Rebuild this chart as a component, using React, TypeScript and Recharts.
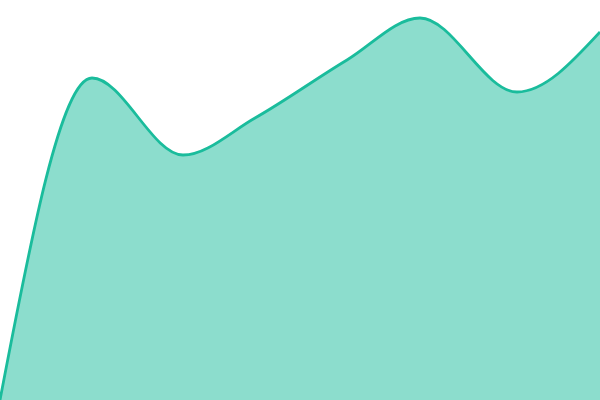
import React from 'react';
import { AreaChart, Area, XAxis, YAxis } from 'recharts';

// sample positions along the horizontal axis (irregular spacing)
const positions = [0, 92, 183, 255, 347, 420, 517, 600];
const values = [0, 322, 245, 282, 340, 382, 308, 368];

const data = positions.map((t, i) => ({ t, value: values[i] }));

export default function App() {
  return (
    <div style={{ position: 'fixed', left: 0, top: 0, width: 600, height: 400, background: '#fff' }}>
      <AreaChart width={600} height={400} data={data} margin={{ top: 0, right: 0, bottom: 0, left: 0 }}>
        <XAxis dataKey="t" type="number" domain={[0, 600]} hide />
        <YAxis type="number" domain={[0, 400]} hide />
        <Area
          type="monotone"
          dataKey="value"
          stroke="#1ABC9C"
          strokeWidth={2.8}
          fill="#1ABC9C"
          fillOpacity={0.5}
          dot={false}
          activeDot={false}
          isAnimationActive={false}
        />
      </AreaChart>
    </div>
  );
}
